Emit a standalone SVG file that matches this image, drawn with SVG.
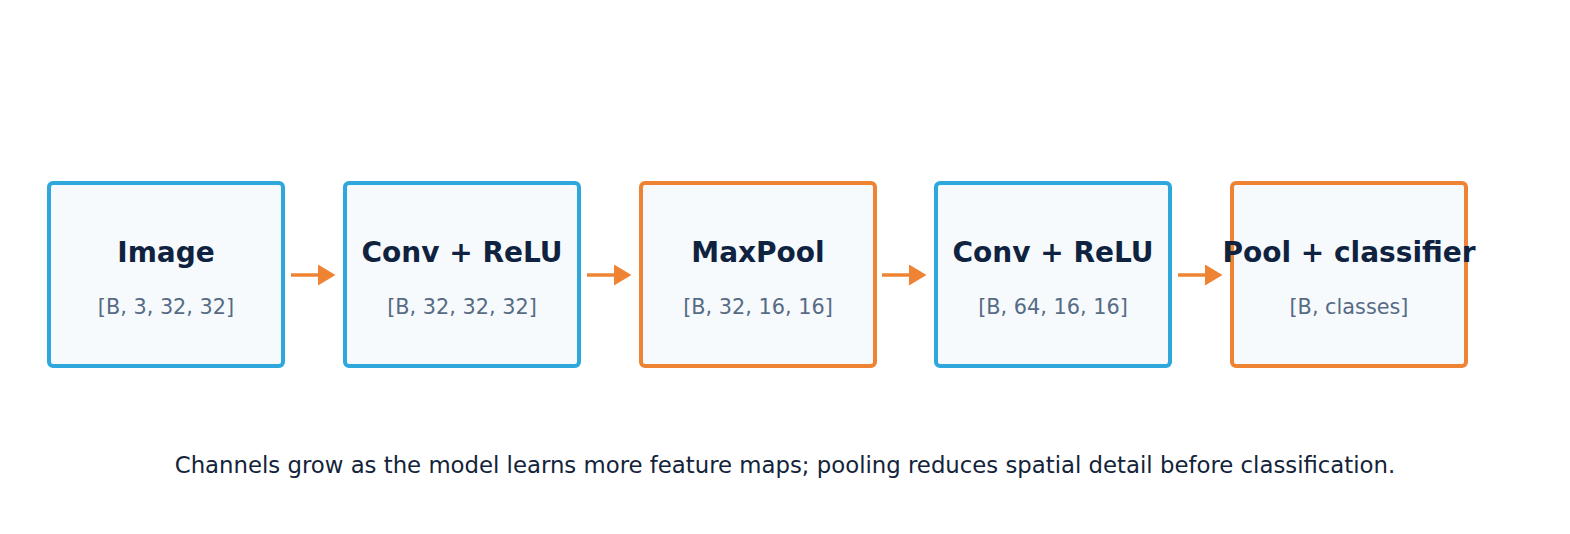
<svg xmlns="http://www.w3.org/2000/svg" width="1570" height="534" viewBox="0 0 1570 534">
<style>
.box{fill:#f6fafd;stroke-width:4}
.blue{stroke:#2ea8dc}
.orange{stroke:#ee8433}
.t{font-family:"DejaVu Sans",sans-serif;font-weight:bold;font-size:28px;fill:#0f2340;text-anchor:middle}
.s{font-family:"DejaVu Sans",sans-serif;font-size:20.8px;fill:#566b84;text-anchor:middle}
.c{font-family:"DejaVu Sans",sans-serif;font-size:22.8px;fill:#13233a;text-anchor:middle}
.e{stroke:#ee8433;stroke-width:3.5;fill:none}
</style>
<defs>
<marker id="ah" markerWidth="6" markerHeight="6" refX="0" refY="3" orient="auto" markerUnits="strokeWidth">
<path d="M0,0 L5,3 L0,6 Z" fill="#ee8433"/>
</marker>
</defs>
<rect width="1570" height="534" fill="#ffffff"/>
<g id="n1"><rect class="box blue" x="49" y="183" width="234" height="183" rx="4"/><text class="t" x="166" y="262">Image</text><text class="s" x="166" y="314">[B, 3, 32, 32]</text></g>
<g id="n2"><rect class="box blue" x="345" y="183" width="234" height="183" rx="4"/><text class="t" x="462" y="262">Conv + ReLU</text><text class="s" x="462" y="314">[B, 32, 32, 32]</text></g>
<g id="n3"><rect class="box orange" x="641" y="183" width="234" height="183" rx="4"/><text class="t" x="758" y="262">MaxPool</text><text class="s" x="758" y="314">[B, 32, 16, 16]</text></g>
<g id="n4"><rect class="box blue" x="936" y="183" width="234" height="183" rx="4"/><text class="t" x="1053" y="262">Conv + ReLU</text><text class="s" x="1053" y="314">[B, 64, 16, 16]</text></g>
<g id="n5"><rect class="box orange" x="1232" y="183" width="234" height="183" rx="4"/><text class="t" x="1349" y="262">Pool + classifier</text><text class="s" x="1349" y="314">[B, classes]</text></g>
<g id="edges">
<line class="e" x1="291" y1="275" x2="318" y2="275" marker-end="url(#ah)"/>
<line class="e" x1="587" y1="275" x2="614" y2="275" marker-end="url(#ah)"/>
<line class="e" x1="882" y1="275" x2="909" y2="275" marker-end="url(#ah)"/>
<line class="e" x1="1178" y1="275" x2="1205" y2="275" marker-end="url(#ah)"/>
</g>
<text class="c" x="785" y="473">Channels grow as the model learns more feature maps; pooling reduces spatial detail before classification.</text>
</svg>
